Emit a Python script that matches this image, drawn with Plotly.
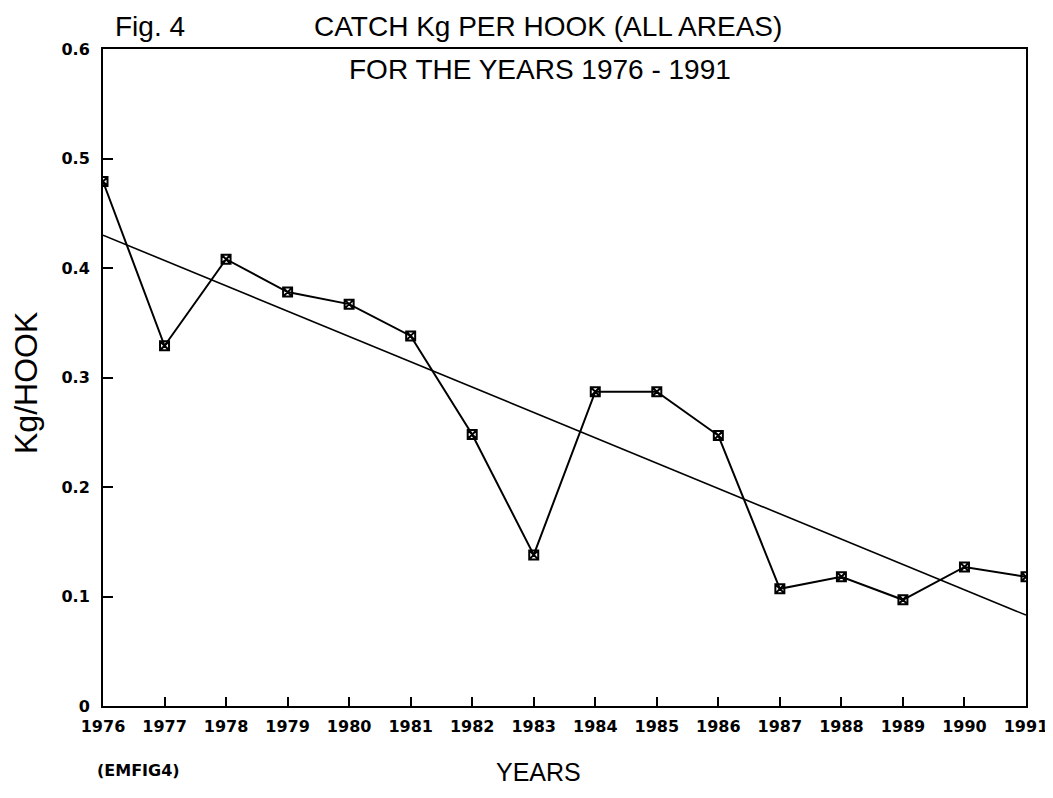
import plotly.graph_objects as go

years = [1976, 1977, 1978, 1979, 1980, 1981, 1982, 1983,
         1984, 1985, 1986, 1987, 1988, 1989, 1990, 1991]
kg_per_hook = [0.479, 0.329, 0.408, 0.378, 0.367, 0.338, 0.248, 0.138,
               0.287, 0.287, 0.247, 0.107, 0.118, 0.097, 0.127, 0.118]
trend_years = [1976, 1991]
trend_values = [0.430, 0.083]
y_tick_vals = [0, 0.1, 0.2, 0.3, 0.4, 0.5, 0.6]
y_tick_text = ["0", "0.1", "0.2", "0.3", "0.4", "0.5", "0.6"]
x_tick_text = [str(y) for y in years]

W, H = 1053, 798
L, R, T, B = 95, 35, 41, 100
pw, ph = W - L - R, H - T - B


def px(x):
    return (x - L) / pw


def py(y):
    return (H - B - y) / ph


fig = go.Figure()
fig.add_trace(go.Scatter(
    x=trend_years, y=trend_values, mode="lines",
    line=dict(color="black", width=1.6), showlegend=False, hoverinfo="skip"))
fig.add_trace(go.Scatter(
    x=years, y=kg_per_hook, mode="lines+markers",
    line=dict(color="black", width=2),
    marker=dict(symbol="square-x-open", size=9, color="black",
                line=dict(color="black", width=2)),
    showlegend=False))

tick_font = dict(family="DejaVu Sans", size=16, color="black", weight="bold")

fig.update_xaxes(
    range=[1976, 1991], tickmode="array", tickvals=years, ticktext=x_tick_text,
    ticks="inside", ticklen=9, tickwidth=1.5, tickcolor="black",
    showline=True, linecolor="black", linewidth=2, mirror=True,
    showgrid=False, zeroline=False, tickfont=tick_font, ticklabelstandoff=5)
fig.update_yaxes(
    range=[0, 0.6], tickmode="array", tickvals=y_tick_vals, ticktext=y_tick_text,
    ticks="inside", ticklen=10, tickwidth=1.5, tickcolor="black",
    showline=True, linecolor="black", linewidth=2, mirror=True,
    showgrid=False, zeroline=False, tickfont=tick_font, ticklabelstandoff=8)

ann = [
    dict(text="Fig. 4", x=px(142), y=py(1), yanchor="top",
         font=dict(family="Liberation Sans", size=28, color="black")),
    dict(text="CATCH Kg PER HOOK (ALL AREAS)", x=px(540), y=py(19), yanchor="middle",
         font=dict(family="Liberation Sans", size=28, color="black")),
    dict(text="FOR THE YEARS 1976 - 1991", x=px(532), y=py(61), yanchor="middle",
         font=dict(family="Liberation Sans", size=28, color="black")),
    dict(text="(EMFIG4)", x=px(130), y=py(762), yanchor="middle",
         font=dict(family="DejaVu Sans", size=16, color="black", weight="bold")),
    dict(text="YEARS", x=px(530), y=py(764), yanchor="middle",
         font=dict(family="Liberation Sans", size=25, color="black")),
    dict(text="Kg/HOOK", x=px(18), y=py(375), yanchor="middle", textangle=-90,
         font=dict(family="Liberation Sans", size=32, color="black")),
]
for a in ann:
    fig.add_annotation(xref="paper", yref="paper", showarrow=False,
                       xanchor="center", **a)

fig.update_layout(
    width=W, height=H, margin=dict(l=L, r=R, t=T, b=B),
    paper_bgcolor="white", plot_bgcolor="white")

fig.write_html("out.html")
